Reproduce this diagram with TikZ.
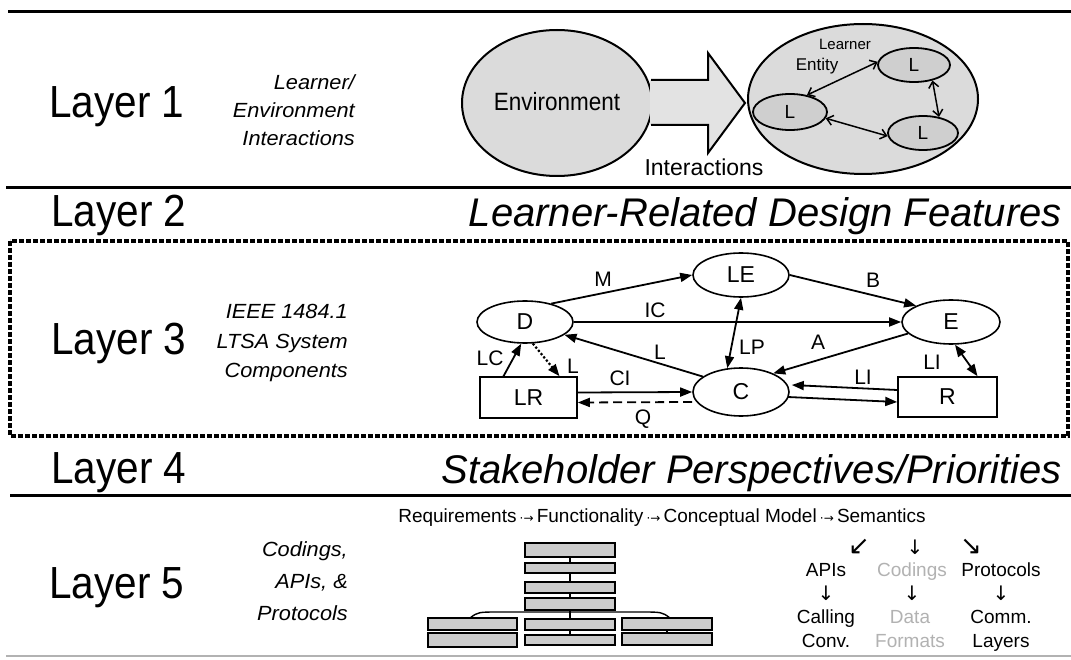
\documentclass[tikz,border=0pt]{standalone}
\usepackage{fontspec}
\setmainfont{Liberation Sans}
\newfontfamily\condfont[FakeStretch=0.9]{Liberation Sans}
\newfontfamily\subfont[FakeStretch=1.06]{Liberation Sans}
\newfontfamily\arrfont{DejaVu Sans}
\usetikzlibrary{arrows.meta,shapes.geometric}
\tikzset{
  sepline/.style={line width=3pt,black},
  layertitle/.style={anchor=base west,inner sep=0pt,font=\condfont\fontsize{45}{48}\selectfont},
  subtitle/.style={anchor=east,align=right,inner sep=0pt},
  bigtitle/.style={anchor=base east,inner sep=0pt,font=\itshape\fontsize{40}{44}\selectfont},
  cloud/.style={ellipse,draw,line width=2pt,fill=gray!28,inner sep=0pt},
  lnode/.style={ellipse,draw,line width=1.8pt,fill=gray!38,inner sep=0pt,font=\fontsize{19}{22}\selectfont},
  barb/.style={line width=1.5pt,{Straight Barb[length=6pt,width=10pt]}-{Straight Barb[length=6pt,width=10pt]}},
  comp/.style={ellipse,draw,line width=1.6pt,fill=white,inner sep=0pt,font=\fontsize{23}{26}\selectfont},
  compbox/.style={rectangle,draw,line width=1.6pt,fill=white,inner sep=0pt,font=\fontsize{23}{26}\selectfont},
  flow/.style={line width=1.8pt,-{Triangle[length=12pt,width=9pt]}},
  flowboth/.style={line width=1.8pt,{Triangle[length=12pt,width=9pt]}-{Triangle[length=12pt,width=9pt]}},
  elabel/.style={inner sep=0pt,font=\fontsize{21}{24}\selectfont},
  stackbox/.style={draw,line width=1.6pt,fill=gray!40},
  rowtext/.style={inner sep=0pt,font=\fontsize{19}{22}\selectfont},
  colword/.style={anchor=base,inner sep=0pt,font=\fontsize{19}{22}\selectfont},
  arrglyph/.style={inner sep=0pt,font=\arrfont\fontsize{20}{22}\selectfont},
  diagglyph/.style={inner sep=0pt,font=\arrfont\fontsize{26}{28}\selectfont},
}
\begin{document}
\begin{tikzpicture}[x=1pt,y=-1pt]
\useasboundingbox (0,0) rectangle (1071,660);
\fill[white] (0,0) rectangle (1071,660);

% ---------- separators ----------
\draw[sepline] (8,12) -- (1071,12);
\draw[sepline] (6,188) -- (1071,188);
\draw[sepline] (10,495) -- (1071,495);
\draw[line width=1.2pt,gray!60] (6,656) -- (1071,656);
\draw[line width=3.5pt,dash pattern=on 5pt off 2pt] (10,241) rectangle (1068,436);

% ---------- Layer titles ----------
\node[layertitle] (t1) at (49,118) {Layer 1};
\node[layertitle] (t2) at (51,227) {Layer 2};
\node[layertitle] (t3) at (51,355) {Layer 3};
\node[layertitle] (t4) at (51,483) {Layer 4};
\node[layertitle] (t5) at (49,598) {Layer 5};

\node[subtitle,font=\subfont\itshape\fontsize{20.5}{28}\selectfont] (s1) at (355,110) {Learner/\\Environment\\Interactions};
\node[subtitle,font=\subfont\itshape\fontsize{20.5}{29.5}\selectfont] (s3) at (348,343) {IEEE 1484.1\\LTSA System\\Components};
\node[subtitle,font=\subfont\itshape\fontsize{20.5}{32}\selectfont] (s5) at (348,581) {Codings,\\APIs, \&\\Protocols};

\node[bigtitle] (b2) at (1062,227) {Learner-Related Design Features};
\node[bigtitle] (b4) at (1062,483) {Stakeholder Perspectives/Priorities};

% ---------- Layer 1 ----------
\node[cloud,minimum width=190pt,minimum height=146pt] (env) at (557,103) {};
\node[inner sep=0pt,font=\condfont\fontsize{25}{28}\selectfont] (envtxt) at (557,102) {Environment};
\fill[gray!22] (650,80) -- (708,80) -- (708,53) -- (745,103) -- (708,153) -- (708,125) -- (650,125) -- cycle;
\draw[line width=2pt,line join=miter] (651,80) -- (708,80) -- (708,53) -- (745,103) -- (708,153) -- (708,125) -- (651,125);
\node[inner sep=0pt,font=\fontsize{23}{26}\selectfont] (inter) at (704,167) {Interactions};

\node[cloud,minimum width=230pt,minimum height=150pt] (grp) at (863,99) {};
\node[lnode,minimum width=74pt,minimum height=36pt] (L1) at (790,112) {L};
\node[lnode,minimum width=72pt,minimum height=34pt] (L2) at (914,65) {L};
\node[lnode,minimum width=70pt,minimum height=34pt] (L3) at (923,133) {L};
\node[inner sep=0pt,font=\fontsize{15}{17}\selectfont] (learner) at (845,44) {Learner};
\node[inner sep=0pt,font=\fontsize{17}{19}\selectfont] (entity) at (817,66) {Entity};
\draw[barb] (L1.45) -- (L2.175);
\draw[barb] (L1.-10) -- (L3.185);
\draw[barb] (L2.-40) -- (L3.45);

% ---------- Layer 3 ----------
\node[comp,minimum width=96pt,minimum height=42pt] (D) at (525,322) {D};
\node[comp,minimum width=96pt,minimum height=44pt] (LE) at (741,275) {LE};
\node[comp,minimum width=96pt,minimum height=48pt] (C) at (741,392) {C};
\node[comp,minimum width=98pt,minimum height=44pt] (E) at (951,322) {E};
\node[compbox,minimum width=97pt,minimum height=41pt] (LR) at (528.5,397.5) {LR};
\node[compbox,minimum width=99pt,minimum height=40pt] (R) at (947.5,397) {R};

\draw[flow] (D.35) -- (LE.west);
\draw[flow] (D.east) -- (E.west);
\draw[flow] (C.158) -- (D.-18);
\draw[flowboth] (LE.south) -- (C.120);
\draw[flow] (LE.east) -- (E.155);
\draw[flow] (E.195) -- (C.30);
\draw[flowboth] (E.-80) -- ([xshift=30pt]R.north);
\draw[flow] ([yshift=7pt]R.west) -- ([yshift=7pt,xshift=2pt]C.east);
\draw[flow] ([yshift=-5pt,xshift=-2pt]C.east) -- ([yshift=-5pt]R.west);
\draw[flow] ([yshift=5pt]LR.east) -- (C.west);
\draw[line width=1.8pt,dash pattern=on 9pt off 5pt,-{Triangle[length=12pt,width=9pt]}] ([yshift=-10pt]C.west) -- ([yshift=-5pt]LR.east);
\draw[flow] ([xshift=-25pt]LR.north) -- (D.-100);
\draw[line width=2.2pt,dotted,-{Triangle[length=12pt,width=9pt]}] (D.-70) -- ([xshift=31pt]LR.north);

\node[elabel] (lM) at (603,279) {M};
\node[elabel] (lIC) at (655,310) {IC};
\node[elabel] (lL1) at (660,352) {L};
\node[elabel] (lLP) at (752,347) {LP};
\node[elabel] (lB) at (873,280) {B};
\node[elabel] (lA) at (818,342) {A};
\node[elabel] (lLI1) at (932,362) {LI};
\node[elabel] (lLI2) at (863,377) {LI};
\node[elabel] (lCI) at (620,378) {CI};
\node[elabel] (lQ) at (643,419) {Q};
\node[elabel] (lLC) at (490,358) {LC};
\node[elabel] (lL2) at (573,366) {L};

% ---------- Layer 5 ----------
\node[rowtext] (req) at (662,518) {Requirements\,{\arrfont\fontsize{12}{14}\selectfont ·→}\,Functionality\,{\arrfont\fontsize{12}{14}\selectfont ·→}\,Conceptual Model\,{\arrfont\fontsize{12}{14}\selectfont ·→}\,Semantics};
\node[diagglyph] (a1) at (859,547) {↙};
\node[arrglyph] (a2) at (915,547) {↓};
\node[diagglyph] (a3) at (971,547) {↘};
\node[colword] (apis) at (826,576) {APIs};
\node[colword,text=gray!60] (codings) at (912,576) {Codings};
\node[colword] (protocols) at (1001,576) {Protocols};
\node[arrglyph] (d1) at (826,593) {↓};
\node[arrglyph] (d2) at (912,593) {↓};
\node[arrglyph] (d3) at (1001,593) {↓};
\node[colword] (calling) at (826,623) {Calling};
\node[colword,text=gray!60] (data) at (910,623) {Data};
\node[colword] (comm) at (1001,623) {Comm.};
\node[colword] (conv) at (826,647) {Conv.};
\node[colword,text=gray!60] (formats) at (910,647) {Formats};
\node[colword] (layers) at (1001,647) {Layers};

% stack pictogram
\draw[line width=1.4pt] (570,557) -- (570,619);
\draw[line width=1.4pt] (570,630) -- (570,635);
\draw[line width=1.4pt] (667,630) -- (667,633);
\draw[line width=1.4pt] (470,618) .. controls (478,612) .. (500,612) -- (640,612) .. controls (662,612) .. (670,618);
\draw[stackbox] (525,543) rectangle (615,557);
\draw[stackbox] (525,563) rectangle (615,573);
\draw[stackbox] (525,582) rectangle (615,593);
\draw[stackbox] (525,598) rectangle (615,610);
\draw[stackbox] (525,619) rectangle (615,630);
\draw[stackbox] (525,635) rectangle (615,645);
\draw[stackbox] (428,618) rectangle (517,630);
\draw[stackbox] (428,633) rectangle (517,647);
\draw[stackbox] (622,618) rectangle (712,630);
\draw[stackbox] (622,633) rectangle (712,645);
\end{tikzpicture}
\end{document}
